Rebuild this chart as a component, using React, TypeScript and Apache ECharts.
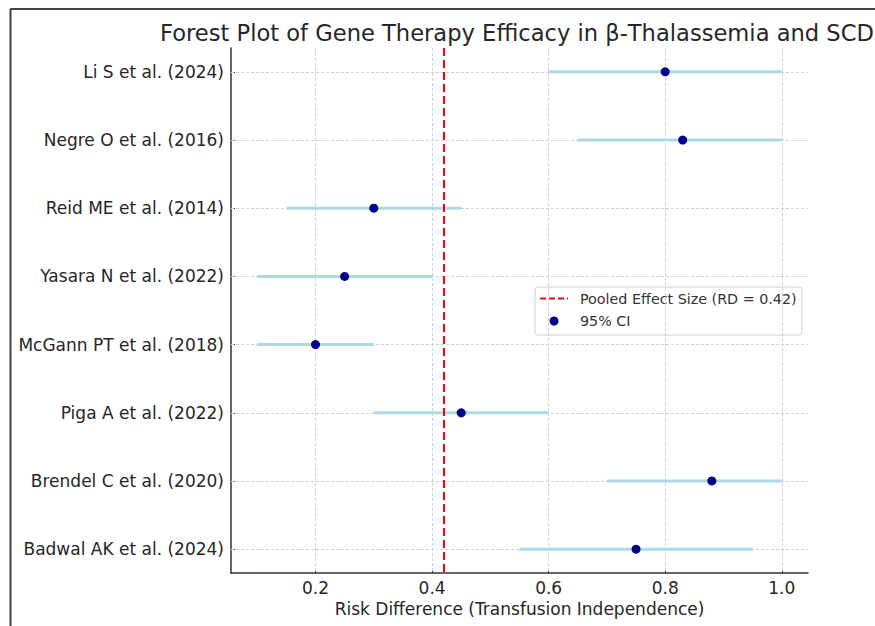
import React, { useEffect, useRef } from "react";
import * as echarts from "echarts";

const studies = [
  "Li S et al. (2024)",
  "Negre O et al. (2016)",
  "Reid ME et al. (2014)",
  "Yasara N et al. (2022)",
  "McGann PT et al. (2018)",
  "Piga A et al. (2022)",
  "Brendel C et al. (2020)",
  "Badwal AK et al. (2024)",
];
const estimates = [0.8, 0.83, 0.3, 0.25, 0.2, 0.45, 0.88, 0.75];
const ciLower = [0.6, 0.65, 0.15, 0.1, 0.1, 0.3, 0.7, 0.55];
const ciUpper = [1.0, 1.0, 0.45, 0.4, 0.3, 0.6, 1.0, 0.95];
const pooled = 0.42;
const xTicks = [0.2, 0.4, 0.6, 0.8, 1.0];

const FONT = "DejaVu Sans";
const TEXT = "#262626";

export default function App() {
  const ref = useRef<HTMLDivElement>(null);
  useEffect(() => {
    if (!ref.current) return;
    const chart = echarts.init(ref.current, null, { renderer: "svg" });
    const rows = studies.map((_, i) => i);
    const gridStyle = { color: "#d0d0d0", width: 1, type: [3, 2] as any };
    const option: any = {
      animation: false,
      backgroundColor: "#ffffff",
      grid: { left: 231, right: 67, top: 48, bottom: 53, containLabel: false },
      xAxis: {
        type: "value",
        min: 0.055,
        max: 1.045,
        name: "Risk Difference (Transfusion Independence)",
        nameLocation: "middle",
        nameGap: 27,
        nameTextStyle: { fontFamily: FONT, fontSize: 17, color: TEXT },
        axisLine: { show: true, onZero: false, lineStyle: { color: "#333", width: 1.5 } },
        axisTick: { show: true, inside: true, length: 4, customValues: xTicks, lineStyle: { color: "#333" } },
        axisLabel: {
          customValues: xTicks,
          formatter: (v: number) => v.toFixed(1),
          fontFamily: FONT,
          fontSize: 17,
          color: TEXT,
          margin: 6,
        },
        splitLine: { show: false },
      },
      yAxis: {
        type: "value",
        inverse: true,
        min: -0.35,
        max: 7.35,
        axisLine: { show: true, onZero: false, lineStyle: { color: "#333", width: 1.5 } },
        axisTick: { show: true, inside: true, length: 4, customValues: rows, lineStyle: { color: "#333" } },
        axisLabel: {
          customValues: rows,
          formatter: (v: number) => studies[Math.round(v)] ?? "",
          fontFamily: FONT,
          fontSize: 17,
          color: TEXT,
          margin: 7,
        },
        splitLine: { show: false },
      },
      graphic: [
        {
          type: "line",
          shape: { x1: 10, y1: 9, x2: 875, y2: 9 },
          style: { stroke: "#444", lineWidth: 2 },
          silent: true,
        },
        {
          type: "line",
          shape: { x1: 10.5, y1: 9, x2: 10.5, y2: 626 },
          style: { stroke: "#444", lineWidth: 2 },
          silent: true,
        },
        {
          type: "text",
          x: 160,
          y: 33,
          style: {
            text: "Forest Plot of Gene Therapy Efficacy in β-Thalassemia and SCD",
            fontFamily: FONT,
            fontSize: 22.6,
            fill: TEXT,
            textAlign: "left",
            textVerticalAlign: "middle",
          },
        },
        {
          type: "group",
          z: 100,
          children: [
            {
              type: "rect",
              shape: { x: 535, y: 287, width: 267, height: 48, r: 3 },
              style: { fill: "rgba(255,255,255,0.85)", stroke: "#cccccc", lineWidth: 1 },
            },
            {
              type: "line",
              shape: { x1: 540, y1: 298.5, x2: 568, y2: 298.5 },
              style: { stroke: "#ff0000", lineWidth: 2, lineDash: [6, 3] },
            },
            {
              type: "text",
              x: 580,
              y: 298.5,
              style: {
                text: "Pooled Effect Size (RD = 0.42)",
                fontFamily: FONT,
                fontSize: 14.3,
                fill: "#333",
                textVerticalAlign: "middle",
              },
            },
            {
              type: "circle",
              shape: { cx: 554, cy: 321, r: 4.5 },
              style: { fill: "#00008b" },
            },
            {
              type: "text",
              x: 580,
              y: 321,
              style: {
                text: "95% CI",
                fontFamily: FONT,
                fontSize: 14.3,
                fill: "#333",
                textVerticalAlign: "middle",
              },
            },
          ],
        },
      ],
      series: [
        {
          name: "grid",
          type: "scatter",
          data: [],
          silent: true,
          z: 1,
          markLine: {
            z: 1,
            silent: true,
            symbol: "none",
            label: { show: false },
            lineStyle: gridStyle,
            data: [
              ...xTicks.map((v) => ({ xAxis: v })),
              ...rows.map((v) => ({ yAxis: v })),
            ],
          },
        },
        {
          name: "CI",
          type: "custom",
          z: 2,
          data: rows.map((i) => [ciLower[i], ciUpper[i], i]),
          encode: { x: [0, 1], y: 2 },
          renderItem: (params: any, api: any) => {
            const p1 = api.coord([api.value(0), api.value(2)]);
            const p2 = api.coord([api.value(1), api.value(2)]);
            return {
              type: "line",
              shape: { x1: p1[0], y1: p1[1], x2: p2[0], y2: p2[1] },
              style: { stroke: "#add8e6", lineWidth: 3 },
            };
          },
        },
        {
          name: "Pooled Effect Size (RD = 0.42)",
          type: "scatter",
          data: [],
          z: 3,
          markLine: {
            z: 3,
            silent: true,
            symbol: "none",
            label: { show: false },
            lineStyle: { color: "#ff0000", width: 2, type: [8, 4] },
            data: [{ xAxis: pooled }],
          },
        },
        {
          name: "95% CI",
          type: "scatter",
          z: 10,
          symbol: "circle",
          symbolSize: 9,
          itemStyle: { color: "#00008b", opacity: 1 },
          data: rows.map((i) => [estimates[i], i]),
        },
      ],
    };
    chart.setOption(option);
    return () => chart.dispose();
  }, []);
  return (
    <div
      ref={ref}
      style={{ position: "fixed", left: 0, top: 0, width: 875, height: 626 }}
    />
  );
}
